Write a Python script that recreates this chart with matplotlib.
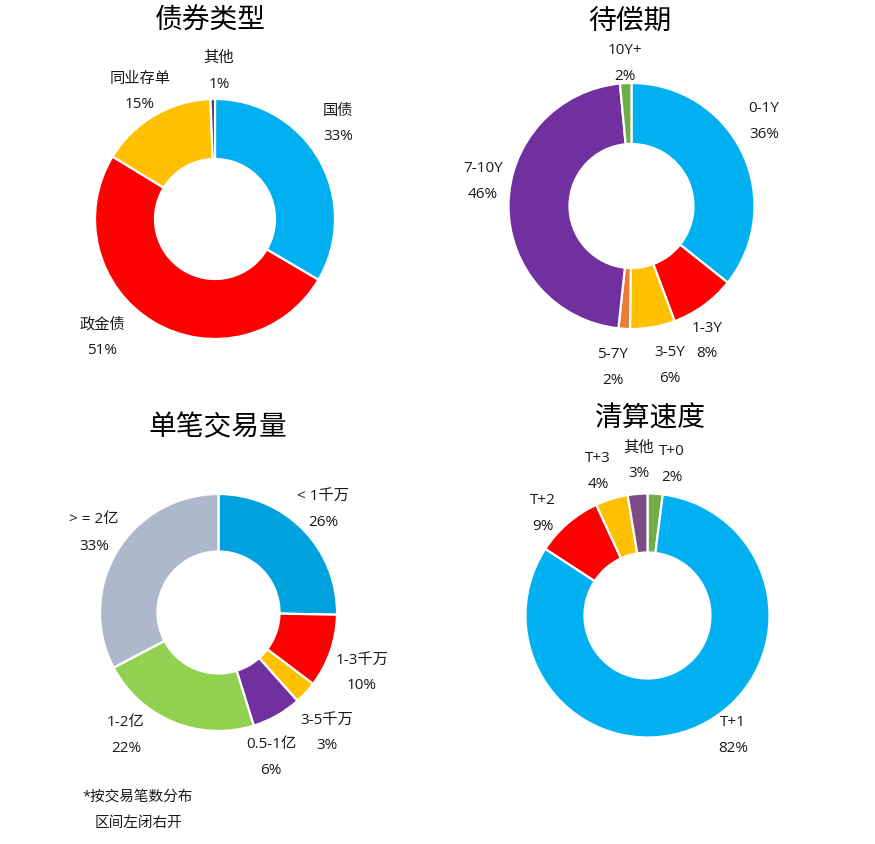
import matplotlib
matplotlib.use("Agg")
import matplotlib.pyplot as plt

plt.rcParams['font.family'] = ['Open Sans', 'Noto Sans CJK SC', 'DejaVu Sans']

# 债券类型
bond_names = ['国债', '政金债', '同业存单', '其他']
bond_values = [33.5, 50.3, 15.7, 0.6]
bond_pcts = ['33%', '51%', '15%', '1%']

# 待偿期
term_names = ['0-1Y', '1-3Y', '3-5Y', '5-7Y', '7-10Y', '10Y+']
term_values = [35.7, 8.6, 5.9, 1.5, 46.8, 1.5]
term_pcts = ['36%', '8%', '6%', '2%', '46%', '2%']

# 单笔交易量
size_names = ['< 1千万', '1-3千万', '3-5千万', '0.5-1亿', '1-2亿', '> = 2亿']
size_values = [25.3, 10.0, 3.1, 6.8, 22.1, 32.7]
size_pcts = ['26%', '10%', '3%', '6%', '22%', '33%']

# 清算速度
settle_names = ['T+0', 'T+1', 'T+2', 'T+3', '其他']
settle_values = [2.0, 82.2, 8.9, 4.3, 2.6]
settle_pcts = ['2%', '82%', '9%', '4%', '3%']

W, H = 875, 845

fig = plt.figure(figsize=(W / 100, H / 100), dpi=100)
ax = fig.add_axes([0, 0, 1, 1])
ax.set_xlim(0, W)
ax.set_ylim(0, H)
ax.set_aspect('equal')
ax.axis('off')


def Y(y):
    # pixel row (from top) -> data y
    return H - y


def donut(values, colors, cx, cy, r_out, r_in):
    ax.pie(values, colors=colors, center=(cx, Y(cy)), radius=r_out,
           startangle=90, counterclock=False, frame=True,
           wedgeprops=dict(width=r_out - r_in, edgecolor='white', linewidth=1.6))


def labels(names, pcts, spots, gap=26):
    for name, pct, (x, y) in zip(names, pcts, spots):
        ax.text(x, Y(y), name, ha='center', va='center', fontsize=11, color='#1a1a1a')
        ax.text(x, Y(y + gap), pct, ha='center', va='center', fontsize=11, color='#1a1a1a')


def title(text, x, y):
    ax.text(x, Y(y), text, ha='center', va='center', fontsize=20, color='black')


# chart 1
donut(bond_values, ['#00B0F0', '#FF0000', '#FFC000', '#4B2E83'], 215, 220, 120, 60)
labels(bond_names, bond_pcts, [(338, 111), (102, 325), (140, 79), (219, 58)])
title('债券类型', 210, 22)

# chart 2
donut(term_values, ['#00B0F0', '#FF0000', '#FFC000', '#ED7D31', '#7030A0', '#70AD47'],
      631.5, 207, 123, 62)
labels(term_names, term_pcts, [(764, 108), (707, 328), (670, 353), (613, 355), (483, 169), (625, 51)])
title('待偿期', 630, 22)

# chart 3
donut(size_values, ['#00A2DE', '#FF0000', '#FFC000', '#7030A0', '#92D050', '#ADB9CA'],
      218.5, 613.5, 118.5, 61)
labels(size_names, size_pcts, [(323, 496), (362, 660), (327, 720), (271, 745), (126, 723), (94, 520)])
title('单笔交易量', 218, 428)
ax.text(82, Y(797), '*按交易笔数分布', ha='left', va='center', fontsize=10.5, color='#1a1a1a')
ax.text(138, Y(823), '区间左闭右开', ha='center', va='center', fontsize=10.5, color='#1a1a1a')

# chart 4
donut(settle_values, ['#70AD47', '#00B0F0', '#FF0000', '#FFC000', '#7E4A84'],
      647.5, 616.5, 122, 63)
labels(settle_names, settle_pcts, [(672, 452), (733, 723), (543, 501), (598, 459), (639, 448)])
title('清算速度', 650, 420)

ax.set_xlim(0, W)
ax.set_ylim(0, H)
ax.axis('off')

fig.savefig('out.png', dpi=100, facecolor='white')
